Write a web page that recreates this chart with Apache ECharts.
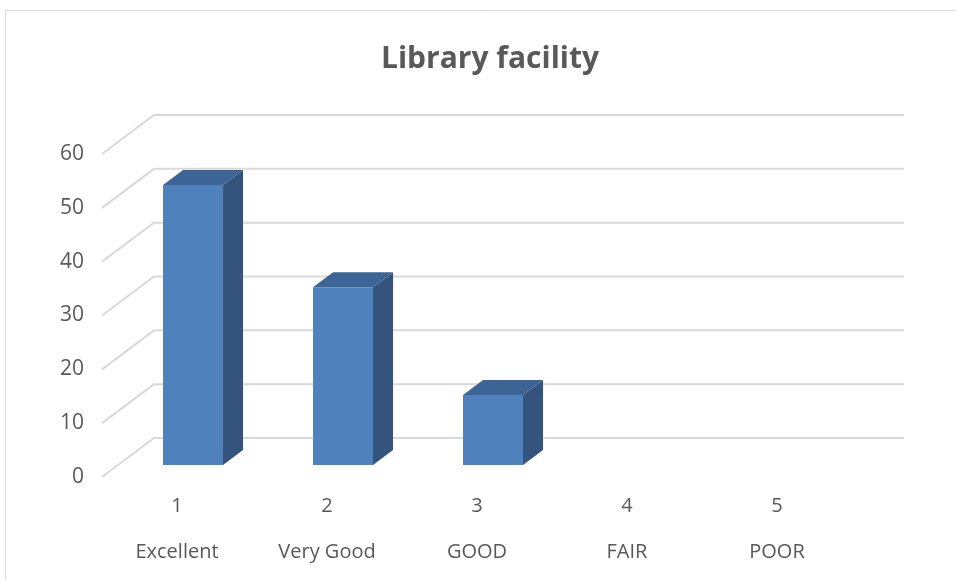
<!DOCTYPE html>
<html lang="en">
<head>
    <meta charset="UTF-8">
    <title>Library facility</title>
    <script type="text/javascript" src="https://cdn.jsdelivr.net/npm/echarts@6/dist/echarts.min.js"></script>
    <style>
        html, body { margin: 0; padding: 0; background: #fff; }
        #chart { width: 956px; height: 580px; }
    </style>
</head>
<body>
<div id="chart"></div>
<script type="text/javascript">
    // data
    var categories = ['Excellent', 'Very Good', 'GOOD', 'FAIR', 'POOR'];
    var catNumbers = ['1', '2', '3', '4', '5'];
    var values = [52, 33, 13, 0, 0];
    var yTicks = [0, 10, 20, 30, 40, 50, 60];

    // 3d depth of the floor / walls (px)
    var DX = 52, DY = 39;
    var FRONT = 0.308, THICK = 0.385;

    function gridItem(params, api) {
        var cs = params.coordSys;
        var y = api.coord([0, api.value(1)])[1];
        return {
            type: 'polyline',
            shape: {
                points: [[cs.x, y], [cs.x + DX, y - DY], [cs.x + cs.width + DX, y - DY]]
            },
            style: { stroke: '#d9d9d9', lineWidth: 2, fill: null }
        };
    }

    function barItem(params, api) {
        var i = api.value(0), v = api.value(1);
        if (!v) return;
        var base = api.coord([i, 0]);
        var top = api.coord([i, v]);
        var bw = api.size([1, 0])[0] * 0.4;
        var x0 = base[0] - bw / 2 + FRONT * DX, x1 = x0 + bw;
        var yb = base[1] - FRONT * DY, yt = top[1] - FRONT * DY;
        var ddx = THICK * DX, ddy = THICK * DY;
        return {
            type: 'group',
            children: [
                {
                    type: 'polygon',
                    shape: { points: [[x1, yt], [x1 + ddx, yt - ddy], [x1 + ddx, yb - ddy], [x1, yb]] },
                    style: { fill: '#34547e' }
                },
                {
                    type: 'polygon',
                    shape: { points: [[x0, yt], [x1, yt], [x1 + ddx, yt - ddy], [x0 + ddx, yt - ddy]] },
                    style: { fill: '#3c6494' }
                },
                {
                    type: 'rect',
                    shape: { x: x0, y: yt, width: bw, height: yb - yt },
                    style: { fill: '#4f81bd' }
                }
            ]
        };
    }

    var mychart = echarts.init(document.getElementById('chart'));
    var option = {
        animation: false,
        title: {
            text: 'Library facility',
            left: 376,
            top: 39,
            textStyle: { fontFamily: 'Open Sans', fontSize: 30, fontWeight: 'bold', color: '#595959' }
        },
        graphic: [{
            type: 'rect',
            shape: { x: 5.5, y: 10.5, width: 1000, height: 600 },
            style: { fill: null, stroke: '#d9d9d9', lineWidth: 1 },
            z: -10
        }],
        grid: { left: 102, right: 104, top: 154, bottom: 103 },
        xAxis: {
            type: 'category',
            data: categories,
            axisLine: { show: false },
            axisTick: { show: false },
            axisLabel: {
                margin: 18,
                lineHeight: 23,
                fontFamily: 'Open Sans',
                fontSize: 20,
                color: '#595959',
                formatter: function (name, idx) {
                    return catNumbers[idx] + '\n\n' + name;
                }
            }
        },
        yAxis: {
            type: 'value',
            min: 0,
            max: 60,
            interval: 10,
            axisLine: { show: false },
            axisTick: { show: false },
            splitLine: { show: false },
            axisLabel: { margin: 18, fontFamily: 'Open Sans', fontSize: 21, color: '#595959' }
        },
        series: [
            {
                type: 'custom',
                renderItem: gridItem,
                data: yTicks.map(function (t) { return [0, t]; }),
                z: 1,
                silent: true
            },
            {
                type: 'custom',
                renderItem: barItem,
                data: values.map(function (v, i) { return [i, v]; }),
                z: 2
            }
        ]
    };
    mychart.setOption(option);
</script>
</body>
</html>
